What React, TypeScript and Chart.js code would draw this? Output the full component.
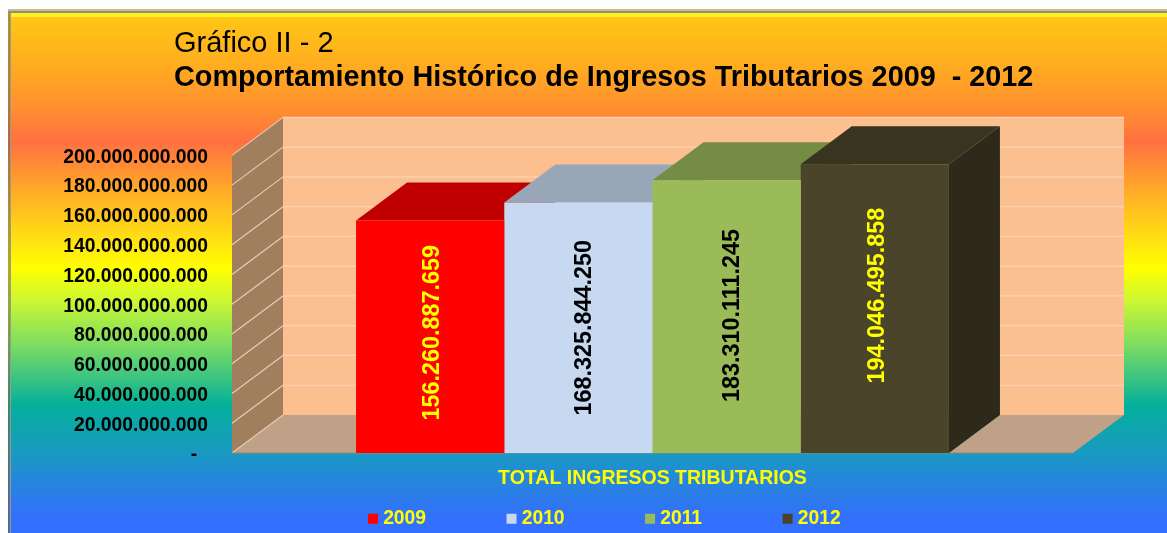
import React, { useEffect, useRef } from "react";
import { Chart, registerables } from "chart.js";

Chart.register(...registerables);

const categories = ["TOTAL INGRESOS TRIBUTARIOS"];
const years = ["2009", "2010", "2011", "2012"];
const values2009 = [156260887659];
const values2010 = [168325844250];
const values2011 = [183310111245];
const values2012 = [194046495858];
const frontColors = ["#ff0000", "#c6d9f1", "#9bbb59", "#4a452a"];
const topColors = ["#c00000", "#98a6b8", "#748c44", "#383420"];
const sideColors = ["#a00000", "#8a97a8", "#66793c", "#2e2a1b"];
const labelColors = ["#ffff00", "#000000", "#000000", "#ffff00"];
const labelShiftsY = [-4, 0, -1, -13];
const labelShiftsX = [2, 6, 6, 2];
const titleLine = "Gráfico II - 2";
const subtitleLine = "Comportamiento Histórico de Ingresos Tributarios 2009  - 2012";
const FONT = "'Liberation Sans', Arial, sans-serif";
const DEPTH_X = 51;
const DEPTH_Y = 38;

const fmt = (v: number) => {
  if (v === 0) return "-  ";
  return String(Math.round(v)).replace(/\B(?=(\d{3})+(?!\d))/g, ".");
};

const poly = (ctx: CanvasRenderingContext2D, pts: number[][], fill: string) => {
  ctx.beginPath();
  pts.forEach((p, i) => (i ? ctx.lineTo(p[0], p[1]) : ctx.moveTo(p[0], p[1])));
  ctx.closePath();
  ctx.fillStyle = fill;
  ctx.fill();
};

const backdrop = {
  id: "backdrop",
  beforeDraw(chart: any) {
    const { ctx, width, height } = chart;
    ctx.save();
    ctx.fillStyle = "#ffffff";
    ctx.fillRect(0, 0, width, height);
    const g = ctx.createLinearGradient(0, 13, 0, height);
    const stops: [number, string][] = [
      [13, "#ffc814"], [60, "#ffb01e"], [110, "#ff8e30"], [142, "#ff7040"],
      [190, "#ffaa28"], [235, "#ffdc14"], [268, "#ffff00"], [300, "#ccf832"], [345, "#7cdc62"],
      [405, "#04b09a"], [455, "#1a98c4"], [495, "#2c7ce8"], [520, "#3370ff"], [533, "#3370ff"],
    ];
    stops.forEach(([y, c]) => g.addColorStop((y - 13) / (height - 13), c));
    ctx.fillStyle = g;
    ctx.fillRect(8, 10, width - 8, height - 10);
    ctx.fillStyle = "rgba(110,100,70,0.55)";
    ctx.fillRect(8, 11, 2, height - 11);
    ctx.fillStyle = "#9a9a90";
    ctx.fillRect(10, 12, 1, height - 12);
    ctx.fillStyle = "#c9bd8c";
    ctx.fillRect(8, 9, width - 8, 2);
    ctx.fillStyle = "#8e8e80";
    ctx.fillRect(10, 11, width - 10, 2);
    ctx.fillStyle = "#fff020";
    ctx.fillRect(11, 13, width - 11, 4);
    ctx.restore();
  },
};

const scene = {
  id: "scene",
  beforeDatasetsDraw(chart: any) {
    const { ctx, chartArea } = chart;
    const yScale = chart.scales.y;
    const { left, right, top, bottom } = chartArea;
    const wt = top - DEPTH_Y;
    const wb = bottom - DEPTH_Y;
    const wl = left + DEPTH_X;
    const wr = right + DEPTH_X;
    ctx.save();
    poly(ctx, [[wl, wt], [wr, wt], [wr, wb], [wl, wb]], "#fcbf90");
    poly(ctx, [[left, top], [wl, wt], [wl, wb], [left, bottom]], "#a07e5e");
    poly(ctx, [[left, bottom], [wl, wb], [wr, wb], [right, bottom]], "#bea187");
    yScale.ticks.forEach((t: any) => {
      const y = yScale.getPixelForValue(t.value);
      ctx.lineWidth = 1.2;
      ctx.strokeStyle = "#e8cdb0";
      ctx.beginPath();
      ctx.moveTo(left, y);
      ctx.lineTo(wl, y - DEPTH_Y);
      ctx.stroke();
      if (t.value > 0) {
        ctx.strokeStyle = "#fdd3b2";
        ctx.beginPath();
        ctx.moveTo(wl, y - DEPTH_Y);
        ctx.lineTo(wr, y - DEPTH_Y);
        ctx.stroke();
      }
    });
    ctx.strokeStyle = "#9a8672";
    ctx.lineWidth = 1;
    ctx.beginPath();
    ctx.moveTo(left, bottom);
    ctx.lineTo(right, bottom);
    ctx.stroke();
    chart.data.datasets.forEach((_: any, i: number) => {
      const bar = chart.getDatasetMeta(i).data[0];
      const x0 = bar.x - bar.width / 2;
      const x1 = bar.x + bar.width / 2;
      const yT = bar.y;
      const yB = bar.base;
      poly(ctx, [[x1, yT], [x1 + DEPTH_X, yT - DEPTH_Y], [x1 + DEPTH_X, yB - DEPTH_Y], [x1, yB]], sideColors[i]);
      poly(ctx, [[x0, yT], [x0 + DEPTH_X, yT - DEPTH_Y], [x1 + DEPTH_X, yT - DEPTH_Y], [x1, yT]], topColors[i]);
    });
    ctx.restore();
  },
  afterDatasetsDraw(chart: any) {
    const { ctx } = chart;
    chart.data.datasets.forEach((ds: any, i: number) => {
      const bar = chart.getDatasetMeta(i).data[0];
      ctx.save();
      ctx.translate(bar.x + labelShiftsX[i], (bar.y + bar.base) / 2 + labelShiftsY[i]);
      ctx.rotate(-Math.PI / 2);
      ctx.scale(1, 1.06);
      ctx.font = `bold 23.4px ${FONT}`;
      ctx.fillStyle = labelColors[i];
      ctx.textAlign = "center";
      ctx.textBaseline = "middle";
      ctx.fillText(fmt(ds.data[0]), 0, 0);
      ctx.restore();
    });
  },
};

const placement = {
  id: "placement",
  afterLayout(chart: any) {
    chart.boxes.forEach((b: any) => {
      if (b.options && b.options.text === titleLine) {
        b.left = 174;
        b.top = 27;
      }
      if (b.options && b.options.text === subtitleLine) {
        b.left = 174;
        b.top = 61;
      }
    });
    const lg = chart.legend;
    if (lg) {
      const pad = lg.options.labels.padding;
      lg.left = 372.5 - pad;
      lg.right = lg.left + 1100;
      lg.top = 509 - pad;
      lg.bottom = 533;
    }
  },
};

export default function App() {
  const ref = useRef<HTMLCanvasElement>(null);
  useEffect(() => {
    const series = [values2009, values2010, values2011, values2012];
    const chart = new Chart(ref.current as HTMLCanvasElement, {
      type: "bar",
      data: {
        labels: categories,
        datasets: years.map((y, i) => ({
          label: y,
          data: series[i],
          backgroundColor: frontColors[i],
          borderWidth: 0,
          categoryPercentage: 0.705,
          barPercentage: 1,
        })),
      },
      plugins: [backdrop, scene, placement],
      options: {
        responsive: false,
        animation: false,
        layout: { padding: { top: 86, right: 94, bottom: 21, left: 0 } },
        plugins: {
          tooltip: { enabled: false },
          title: {
            display: true,
            text: titleLine,
            align: "start",
            color: "#000000",
            padding: 0,
            font: { family: FONT, size: 29, weight: "normal" },
          },
          subtitle: {
            display: true,
            text: subtitleLine,
            align: "start",
            color: "#000000",
            padding: 0,
            font: { family: FONT, size: 28.8, weight: "bold" },
          },
          legend: {
            position: "bottom",
            align: "start",
            maxHeight: 19,
            labels: {
              color: "#ffff00",
              boxWidth: 1,
              boxHeight: 1,
              padding: 85,
              font: { family: FONT, size: 19.3, weight: "bold" },
              generateLabels(c: any) {
                return c.data.datasets.map((d: any, i: number) => ({
                  text: d.label,
                  fillStyle: frontColors[i],
                  strokeStyle: frontColors[i],
                  lineWidth: 9,
                  fontColor: "#ffff00",
                  hidden: false,
                  datasetIndex: i,
                }));
              },
            },
          },
        },
        scales: {
          x: {
            grid: { display: false, drawTicks: false },
            border: { display: false },
            afterFit(axis: any) {
              axis.height = 40;
            },
            ticks: {
              color: "#ffff00",
              padding: 14,
              maxRotation: 0,
              font: { family: FONT, size: 19.5, weight: "bold" },
            },
          },
          y: {
            min: 0,
            max: 200000000000,
            grid: { display: false, drawTicks: false },
            border: { display: false },
            afterFit(axis: any) {
              axis.width = 232;
            },
            ticks: {
              stepSize: 20000000000,
              autoSkip: false,
              labelOffset: 2,
              color: "#000000",
              padding: 24,
              font: { family: FONT, size: 19.3, weight: "bold" },
              callback: (v: any) => fmt(Number(v)),
            },
          },
        },
      },
    } as any);
    return () => chart.destroy();
  }, []);
  return (
    <canvas
      ref={ref}
      width={1167}
      height={533}
      style={{ position: "absolute", left: 0, top: 0, display: "block" }}
    />
  );
}
